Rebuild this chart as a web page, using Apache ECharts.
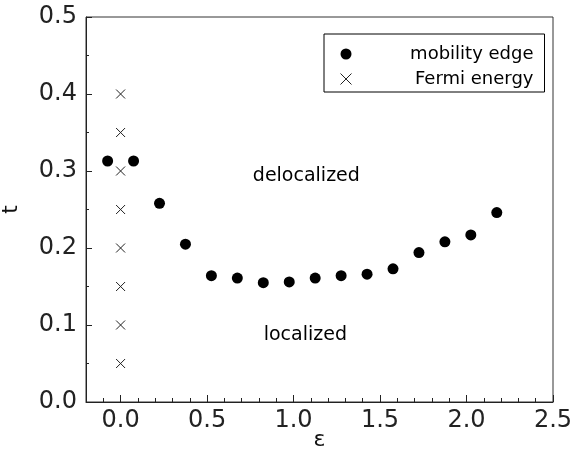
<!DOCTYPE html>
<html>
<head>
<meta charset="utf-8">
<script src="https://cdn.jsdelivr.net/npm/echarts@6/dist/echarts.min.js"></script>
<style>html,body{margin:0;padding:0;background:#fff}#c{width:574px;height:453px}</style>
</head>
<body>
<div id="c"></div>
<script>
// Data
const mobilityEps = [-0.075, 0.075, 0.225, 0.375, 0.525, 0.675, 0.825, 0.975, 1.125, 1.275, 1.425, 1.575, 1.725, 1.875, 2.025, 2.175];
const mobilityT   = [0.313, 0.313, 0.258, 0.205, 0.164, 0.161, 0.155, 0.156, 0.161, 0.164, 0.166, 0.173, 0.194, 0.208, 0.217, 0.246];
const fermiEps = [0, 0, 0, 0, 0, 0, 0, 0];
const fermiT   = [0.05, 0.10, 0.15, 0.20, 0.25, 0.30, 0.35, 0.40];
const xMajorTicks = [0.0, 0.5, 1.0, 1.5, 2.0, 2.5];
const xMinorTicks = [-0.1, 0.1, 0.2, 0.3, 0.4, 0.6, 0.7, 0.8, 0.9, 1.1, 1.2, 1.3, 1.4, 1.6, 1.7, 1.8, 1.9, 2.1, 2.2, 2.3, 2.4];
const annotations = [{ text: 'delocalized', x: 1.074, y: 0.293 }, { text: 'localized', x: 1.068, y: 0.0865 }];
const seriesNames = ['mobility edge', 'Fermi energy'];

const FONT = 'DejaVu Sans';
const crossPath = 'path://M0,0L10,10M10,0L0,10';

const chart = echarts.init(document.getElementById('c'), null, { renderer: 'canvas' });
chart.setOption({
  animation: false,
  backgroundColor: '#fff',
  textStyle: { fontFamily: FONT },
  grid: { left: 86, top: 17, width: 467, height: 385, outerBoundsMode: 'none', containLabel: false,
          show: true, borderColor: '#333', borderWidth: 1, backgroundColor: 'transparent' },
  legend: {
    orient: 'vertical', left: 324, top: 34,
    borderColor: '#000', borderWidth: 1,
    padding: [11, 11, 4, 14],
    itemGap: 7, itemWidth: 11, itemHeight: 11,
    selectedMode: false,
    formatter: n => '{r|' + n + '}',
    textStyle: { fontFamily: FONT, fontSize: 18, color: '#000', lineHeight: 14,
      rich: { r: { width: 177, align: 'right', fontFamily: FONT, fontSize: 18, color: '#000', lineHeight: 14 } } },
    data: [{ name: seriesNames[0], icon: 'circle', itemStyle: { color: '#000', opacity: 1 } },
           { name: seriesNames[1], icon: crossPath, itemStyle: { color: 'none', borderColor: '#222', borderWidth: 1, opacity: 1 } }]
  },
  xAxis: [{
    type: 'value', min: -0.2, max: 2.5, interval: 0.1,
    name: 'ε', nameLocation: 'middle', nameGap: 27, nameMoveOverlap: false,
    nameTextStyle: { fontFamily: FONT, fontSize: 22, color: '#111' },
    axisLine: { show: true, onZero: false, lineStyle: { color: '#222', width: 1 } },
    axisTick: { show: true, inside: true, length: 7, customValues: xMajorTicks, lineStyle: { color: '#222' } },
    axisLabel: { customValues: xMajorTicks, fontFamily: FONT, fontSize: 24, color: '#222', margin: 7, formatter: v => v.toFixed(1) },
    splitLine: { show: false }
  }, {
    type: 'value', min: -0.2, max: 2.5, interval: 0.1, position: 'bottom',
    axisLine: { show: false },
    axisTick: { show: true, inside: true, length: 4, customValues: xMinorTicks, lineStyle: { color: '#222' } },
    axisLabel: { show: false },
    splitLine: { show: false }
  }],
  yAxis: {
    type: 'value', min: 0, max: 0.5, interval: 0.1,
    name: 't', nameLocation: 'middle', nameGap: 64, nameRotate: 90, nameMoveOverlap: false,
    nameTextStyle: { fontFamily: FONT, fontSize: 22, color: '#111' },
    axisLine: { show: true, onZero: false, lineStyle: { color: '#222', width: 1 } },
    axisTick: { show: true, inside: true, length: 6, lineStyle: { color: '#222' } },
    minorTick: { show: true, splitNumber: 2, length: 3, lineStyle: { color: '#222' } },
    axisLabel: { fontFamily: FONT, fontSize: 24, color: '#222', margin: 9, formatter: v => v.toFixed(1) },
    splitLine: { show: false }
  },
  series: [{
    name: seriesNames[0], type: 'scatter', xAxisIndex: 0,
    symbol: 'circle', symbolSize: 11,
    itemStyle: { color: '#000', opacity: 1 },
    data: mobilityEps.map((x, i) => [x, mobilityT[i]])
  }, {
    name: seriesNames[1], type: 'scatter', xAxisIndex: 0,
    symbol: crossPath, symbolSize: 9,
    itemStyle: { color: 'none', borderColor: '#222', borderWidth: 1, opacity: 1 },
    data: fermiEps.map((x, i) => [x, fermiT[i]])
  }, {
    name: 'annotations', type: 'scatter', xAxisIndex: 0,
    symbolSize: 0, silent: true,
    itemStyle: { opacity: 1 },
    label: { show: true, position: 'inside', formatter: p => p.data.text, fontFamily: FONT, fontSize: 19, color: '#000' },
    data: annotations.map(a => ({ value: [a.x, a.y], text: a.text }))
  }]
});
</script>
</body>
</html>
